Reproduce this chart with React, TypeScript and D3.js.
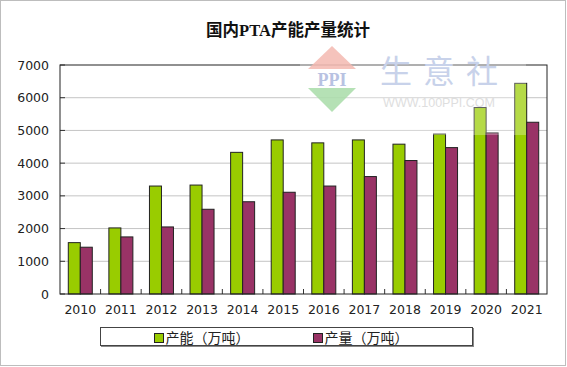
import React from "react";
import * as d3 from "d3";

const years = ["2010","2011","2012","2013","2014","2015","2016","2017","2018","2019","2020","2021"];
const capacity = [1570, 2020, 3300, 3330, 4330, 4710, 4620, 4710, 4580, 4890, 5700, 6440];
const output = [1430, 1745, 2050, 2590, 2820, 3110, 3300, 3590, 4080, 4475, 4925, 5250];
const yTicks = [0, 1000, 2000, 3000, 4000, 5000, 6000, 7000];
const seriesNames = ["产能（万吨）", "产量（万吨）"];
const colors = ["#99CC00", "#993366"];

export default function App() {
  const W = 567, H = 367;
  const left = 60, right = 547, top = 65, bottom = 294;
  const x = d3.scaleBand<string>().domain(years).range([left, right]).paddingInner(0).paddingOuter(0);
  const y = d3.scaleLinear().domain([0, 7000]).range([bottom, top]);
  const bw = 12;
  const numFont = "DejaVu Sans, sans-serif";
  const cjk = "'Noto Sans CJK SC', sans-serif";
  return (
    <svg width={W} height={H} style={{ position: "absolute", left: 0, top: 0, background: "#fff" }}>
      <rect x={0.5} y={0.5} width={565} height={365} fill="#fff" stroke="#bdbdbd" />
      <text x={288} y={36} textAnchor="middle" fontFamily={cjk} fontWeight="bold" fontSize={16.5} fill="#111">
        国内<tspan fontFamily="'Liberation Serif', serif">PTA</tspan>产能产量统计
      </text>
      {yTicks.map((t) => (
        <g key={t}>
          {t > 0 && t < 7000 && <line x1={left} x2={right} y1={y(t)} y2={y(t)} stroke="#c4c4c4" />}
          <line x1={left} x2={left + 5} y1={y(t)} y2={y(t)} stroke="#333" />
          <text x={49} y={y(t) + 4.5} textAnchor="end" fontFamily={numFont} fontSize={12.5} fill="#222">{t}</text>
        </g>
      ))}
      {years.map((yr, i) => {
        const c = (x(yr) as number) + x.bandwidth() / 2;
        return (
          <g key={yr}>
            <rect x={c - bw} y={y(capacity[i])} width={bw} height={bottom - y(capacity[i])} fill={colors[0]} stroke="#222" strokeWidth={1} />
            <rect x={c} y={y(output[i])} width={bw} height={bottom - y(output[i])} fill={colors[1]} stroke="#222" strokeWidth={1} />
            <text x={c} y={314} textAnchor="middle" fontFamily={numFont} fontSize={12.5} fill="#222">{yr}</text>
          </g>
        );
      })}
      {years.slice(1).map((yr) => (
        <line key={"t" + yr} x1={x(yr) as number} x2={x(yr) as number} y1={bottom} y2={bottom - 5} stroke="#333" />
      ))}
      <rect x={left} y={top} width={right - left} height={bottom - top} fill="none" stroke="#222" />
      {/* watermark */}
      <g>
        <rect x={300} y={44} width={226} height={91} fill="#fff" opacity={0.28} />
        <polygon points="332,46 308,69 356,69" fill="#f3b8b0" opacity={0.85} />
        <text x={332} y={86} textAnchor="middle" fontFamily="'Liberation Serif', serif" fontWeight="bold" fontSize={18} fill="#b8c2e2">PPI</text>
        <polygon points="308,88 356,88 332,112" fill="#a8dca8" opacity={0.85} />
        <text x={380} y={83} fontFamily={cjk} fontSize={32} fill="#c8d2ea" letterSpacing={11}>生意社</text>
        <text x={439} y={107} textAnchor="middle" fontFamily="'Liberation Sans', sans-serif" fontSize={12.5} fill="#dedede">WWW.100PPI.COM</text>
      </g>
      {/* legend */}
      <rect x={100.5} y={327.5} width={372} height={18} fill="#fff" stroke="#444" />
      <line x1={101} x2={473} y1={346.5} y2={346.5} stroke="#888" />
      <line x1={473.5} x2={473.5} y1={328} y2={347} stroke="#888" />
      {seriesNames.map((s, i) => {
        const sx = i === 0 ? 154.5 : 313.5;
        return (
          <g key={s}>
            <rect x={sx} y={333.5} width={9} height={9} fill={colors[i]} stroke="#222" />
            <text x={sx + 11} y={342.5} fontFamily={cjk} fontSize={14} fill="#222">{s}</text>
          </g>
        );
      })}
    </svg>
  );
}
